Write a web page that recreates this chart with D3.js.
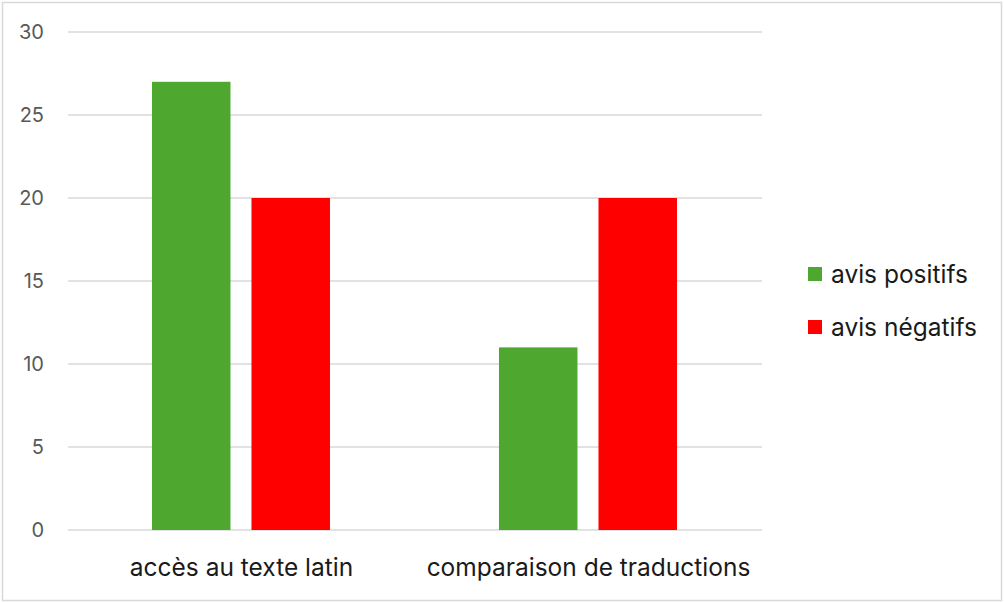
<!DOCTYPE html>
<html>
<head>
<meta charset="utf-8">
<script src="https://cdn.jsdelivr.net/npm/d3@7"></script>
<style>
  body { margin: 0; background: #fff; }
  svg { display: block; }
</style>
</head>
<body>
<div id="chart"></div>
<script>
var categories = ["accès au texte latin", "comparaison de traductions"];
var seriesNames = ["avis positifs", "avis négatifs"];
var positifs = [27, 11];
var negatifs = [20, 20];
var yTicks = [0, 5, 10, 15, 20, 25, 30];

var colors = ["#4ea72e", "#ff0000"];

var svgWidth = 1004;
var svgHeight = 603;

var margin = { top: 32, right: 242, bottom: 73, left: 68 };
var width = svgWidth - margin.left - margin.right;
var height = svgHeight - margin.top - margin.bottom;

var svg = d3.select("#chart")
    .append("svg")
    .attr("width", svgWidth)
    .attr("height", svgHeight);

// outer border
svg.append("rect")
    .attr("x", 2.5).attr("y", 2.5)
    .attr("width", svgWidth - 5).attr("height", svgHeight - 5)
    .attr("fill", "#fff")
    .attr("stroke", "#d9d9d9")
    .attr("stroke-width", 1.5);

var chartGroup = svg.append("g")
    .attr("transform", `translate(${margin.left}, ${margin.top})`);

var data = categories.map(function(c, i) {
    return { cat: c, values: [positifs[i], negatifs[i]] };
});

var x0 = d3.scaleBand()
    .domain(categories)
    .range([0, width])
    .paddingInner(0)
    .paddingOuter(0);

var x1 = d3.scaleBand()
    .domain(d3.range(seriesNames.length))
    .range([x0.bandwidth() * 0.242, x0.bandwidth() * 0.755])
    .paddingInner(0.211);

var y = d3.scaleLinear()
    .domain([0, 30])
    .range([height, 0]);

// gridlines
chartGroup.append("g")
    .selectAll("line")
    .data(yTicks)
    .enter()
    .append("line")
    .attr("x1", 0)
    .attr("x2", width)
    .attr("y1", d => y(d))
    .attr("y2", d => y(d))
    .attr("stroke", "#d9d9d9")
    .attr("stroke-width", 1.5);

// y axis labels
var leftAxis = d3.axisLeft(y).tickValues(yTicks).tickSize(0).tickPadding(24);
var yAxis = chartGroup.append("g").call(leftAxis);
yAxis.select(".domain").remove();
yAxis.selectAll("text")
    .attr("fill", "#595959")
    .attr("font-family", "Inter, 'Open Sans', sans-serif")
    .attr("font-size", "20px");

// bars
var groups = chartGroup.selectAll(".grp")
    .data(data)
    .enter()
    .append("g")
    .attr("transform", d => `translate(${x0(d.cat)}, 0)`);

groups.selectAll("rect")
    .data(d => d.values)
    .enter()
    .append("rect")
    .attr("x", (d, i) => x1(i))
    .attr("width", x1.bandwidth())
    .attr("y", d => y(d))
    .attr("height", d => y(0) - y(d))
    .attr("fill", (d, i) => colors[i]);

// x axis labels
var bottomAxis = d3.axisBottom(x0).tickSize(0).tickPadding(29);
var xAxis = chartGroup.append("g")
    .attr("transform", `translate(0, ${height})`)
    .call(bottomAxis);
xAxis.select(".domain").remove();
xAxis.selectAll("text")
    .attr("fill", "#1a1a1a")
    .attr("font-family", "Inter, 'Open Sans', sans-serif")
    .attr("font-size", "24.5px");

// legend
var legend = svg.append("g")
    .attr("transform", "translate(808, 267)");

var items = legend.selectAll("g")
    .data(seriesNames)
    .enter()
    .append("g")
    .attr("transform", (d, i) => `translate(0, ${i * 53})`);

items.append("rect")
    .attr("width", 14)
    .attr("height", 14)
    .attr("fill", (d, i) => colors[i]);

items.append("text")
    .attr("x", 23)
    .attr("y", 7)
    .attr("dy", "0.36em")
    .attr("fill", "#1a1a1a")
    .attr("font-family", "Inter, 'Open Sans', sans-serif")
    .attr("font-size", "24.5px")
    .text(d => d);
</script>
</body>
</html>
